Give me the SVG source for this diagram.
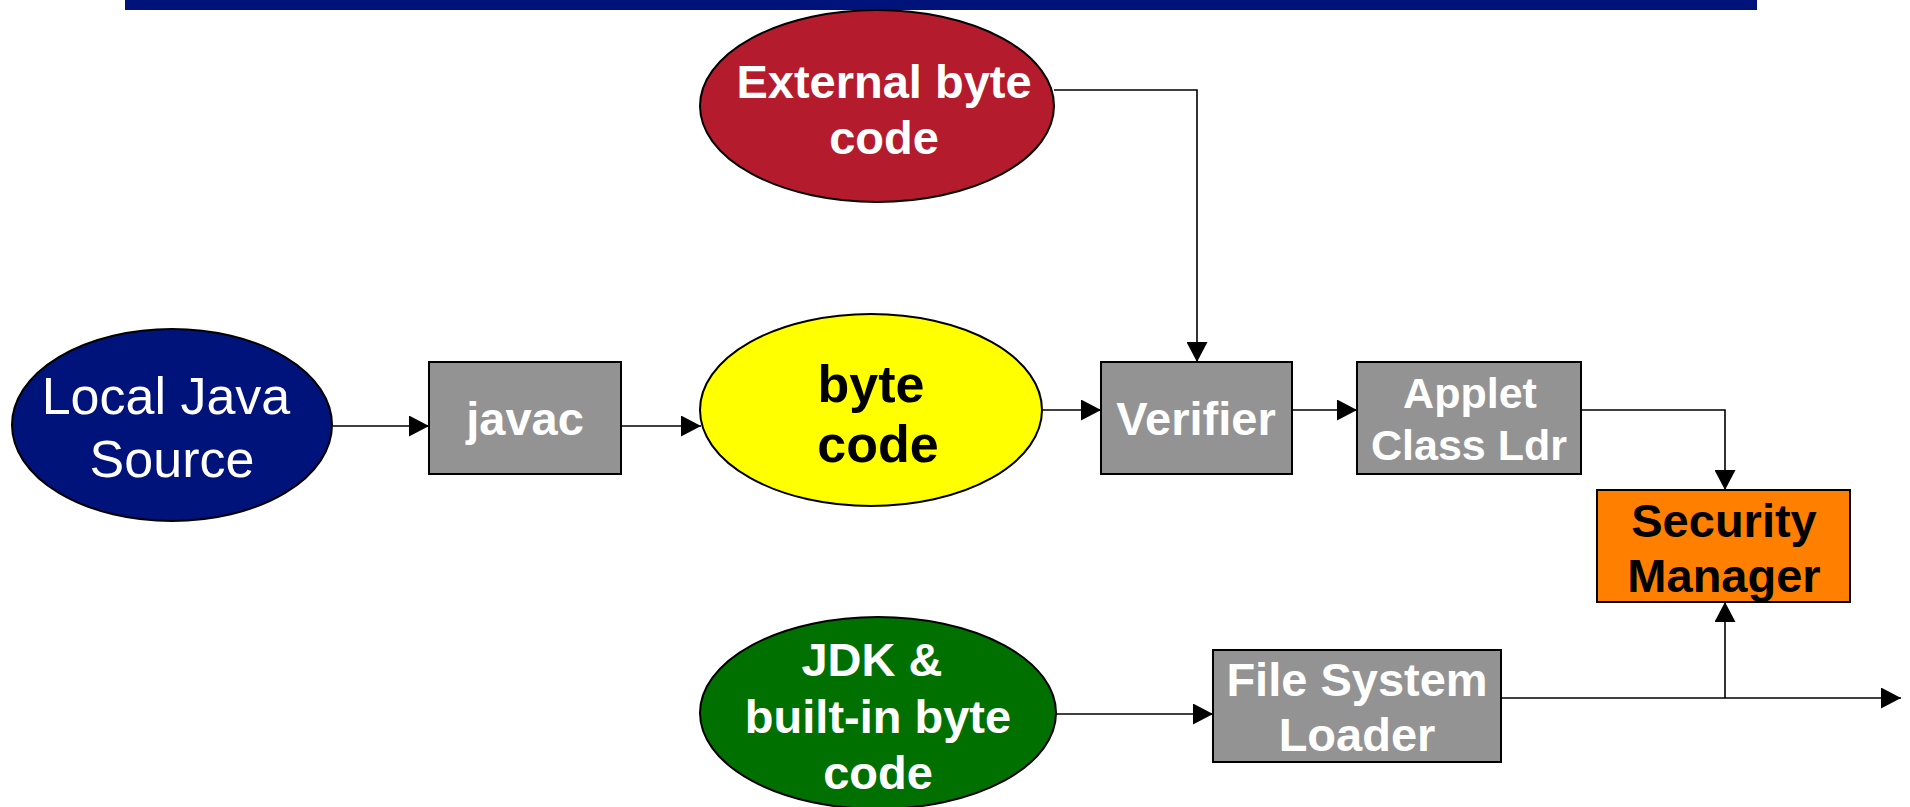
<svg xmlns="http://www.w3.org/2000/svg" width="1910" height="807" viewBox="0 0 1910 807">
  <style>
    .shape { stroke: #000; stroke-width: 2; }
    .box { fill: #939393; stroke: #000; stroke-width: 2; }
    .wire { fill: none; stroke: #000; stroke-width: 1.6; }
    .t { font-family: "Liberation Sans", Arial, sans-serif; text-anchor: middle; }
    .b { font-weight: bold; }
    .w { fill: #fff; }
    .k { fill: #000; }
  </style>
  <defs>
    <marker id="arrow" viewBox="0 0 20 21" refX="20" refY="10.5" markerWidth="20" markerHeight="21" markerUnits="userSpaceOnUse" orient="auto">
      <path d="M0,0 L20,10.5 L0,21 Z" fill="#000"/>
    </marker>
  </defs>

  <rect x="125" y="0" width="1632" height="10" fill="#00137a"/>

  <g id="connectors">
    <line class="wire" x1="333" y1="426" x2="429" y2="426" marker-end="url(#arrow)"/>
    <line class="wire" x1="621" y1="426" x2="701" y2="426" marker-end="url(#arrow)"/>
    <line class="wire" x1="1041" y1="410" x2="1101" y2="410" marker-end="url(#arrow)"/>
    <polyline class="wire" points="1054,90 1197,90 1197,362" marker-end="url(#arrow)"/>
    <line class="wire" x1="1292" y1="410" x2="1357" y2="410" marker-end="url(#arrow)"/>
    <polyline class="wire" points="1581,410 1725,410 1725,490" marker-end="url(#arrow)"/>
    <line class="wire" x1="1056" y1="714" x2="1213" y2="714" marker-end="url(#arrow)"/>
    <line class="wire" x1="1501" y1="698" x2="1901" y2="698" marker-end="url(#arrow)"/>
    <line class="wire" x1="1725" y1="698" x2="1725" y2="602" marker-end="url(#arrow)"/>
  </g>

  <g id="external">
    <ellipse class="shape" cx="877" cy="106" rx="177" ry="96" fill="#b41b2c"/>
    <text class="t b w" x="884" y="98" font-size="47">External byte</text>
    <text class="t b w" x="884" y="154" font-size="47">code</text>
  </g>

  <g id="local-source">
    <ellipse class="shape" cx="172" cy="425" rx="160" ry="96" fill="#00137a"/>
    <text class="t w" x="166" y="414" font-size="52">Local Java</text>
    <text class="t w" x="172" y="477" font-size="52">Source</text>
  </g>

  <g id="javac">
    <rect class="box" x="429" y="362" width="192" height="112"/>
    <text class="t b w" x="525" y="435" font-size="47">javac</text>
  </g>

  <g id="bytecode">
    <ellipse class="shape" cx="871" cy="410" rx="171" ry="96" fill="#ffff00"/>
    <text class="t b k" x="871" y="402" font-size="52">byte</text>
    <text class="t b k" x="878" y="462" font-size="52">code</text>
  </g>

  <g id="verifier">
    <rect class="box" x="1101" y="362" width="191" height="112"/>
    <text class="t b w" x="1196" y="435" font-size="47">Verifier</text>
  </g>

  <g id="applet-loader">
    <rect class="box" x="1357" y="362" width="224" height="112"/>
    <text class="t b w" x="1470" y="408" font-size="43">Applet</text>
    <text class="t b w" x="1469" y="460" font-size="43">Class Ldr</text>
  </g>

  <g id="security-manager">
    <rect class="shape" x="1597" y="490" width="253" height="112" fill="#ff7f00"/>
    <text class="t b k" x="1724" y="537" font-size="47">Security</text>
    <text class="t b k" x="1724" y="592" font-size="47">Manager</text>
  </g>

  <g id="jdk">
    <ellipse class="shape" cx="878" cy="713" rx="178" ry="96" fill="#007000"/>
    <text class="t b w" x="872" y="676" font-size="47">JDK &amp;</text>
    <text class="t b w" x="878" y="733" font-size="47">built-in byte</text>
    <text class="t b w" x="878" y="789" font-size="47">code</text>
  </g>

  <g id="file-loader">
    <rect class="box" x="1213" y="650" width="288" height="112"/>
    <text class="t b w" x="1357" y="696" font-size="47">File System</text>
    <text class="t b w" x="1357" y="751" font-size="47">Loader</text>
  </g>
</svg>
